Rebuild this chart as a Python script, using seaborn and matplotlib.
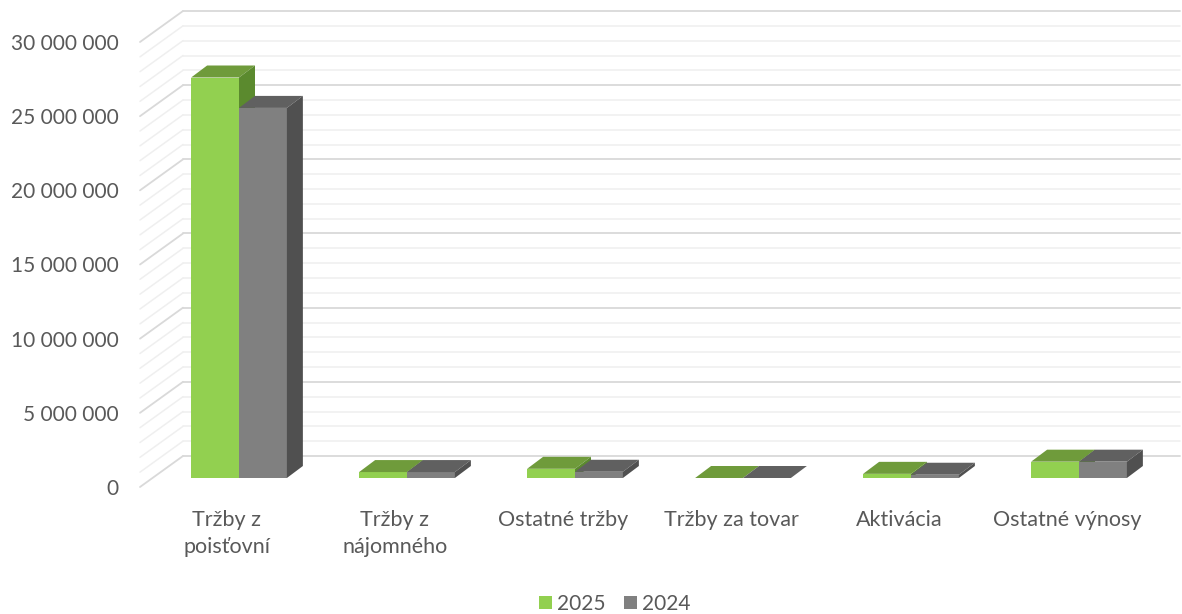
import pandas as pd
import seaborn as sns
import matplotlib.pyplot as plt
from matplotlib.patches import Polygon, Patch
from matplotlib.transforms import ScaledTranslation

# data
categories = ["Tržby z\npoisťovní", "Tržby z\nnájomného", "Ostatné tržby",
              "Tržby za tovar", "Aktivácia", "Ostatné výnosy"]
years = ["2025", "2024"]
values_2025 = [27_000_000, 400_000, 620_000, 0, 280_000, 1_100_000]
values_2024 = [24_950_000, 400_000, 420_000, 0, 220_000, 1_100_000]
y_ticks = [0, 5_000_000, 10_000_000, 15_000_000, 20_000_000, 25_000_000, 30_000_000]
y_labels = ["0", "5 000 000", "10 000 000", "15 000 000", "20 000 000", "25 000 000", "30 000 000"]

front_colors = {"2025": "#92d050", "2024": "#808080"}
top_colors = {"2025": "#6f9b3b", "2024": "#606060"}
side_colors = {"2025": "#5b8a2e", "2024": "#505050"}
text_color = "#595959"

df = pd.DataFrame({
    "Kategória": categories * 2,
    "Rok": ["2025"] * len(categories) + ["2024"] * len(categories),
    "Hodnota": values_2025 + values_2024,
})

sns.set_theme(style="white")
plt.rcParams["font.family"] = ["Lato", "DejaVu Sans"]

W, H = 1182, 614
fig = plt.figure(figsize=(W / 100, H / 100), dpi=100)
ax = fig.add_axes([155 / W, 136 / H, 1008 / W, 445 / H])

sns.barplot(data=df, x="Kategória", y="Hodnota", hue="Rok", hue_order=years,
            palette=front_colors, width=0.57, saturation=1, linewidth=0,
            legend=False, ax=ax)
ax.set_xlim(-0.5, 5.5)
ax.set_ylim(0, 30_000_000)

# pixel -> data scale of the axes
sx = ax.bbox.width / 6
sy = ax.bbox.height / 30_000_000

def px_x(p):
    return (p - 155) / sx - 0.5

# walls: back wall gridlines + slanted lines on the left side wall
back_dy = 22 / sy
front_dy = -9 / sy
for v in range(0, 30_000_001, 1_000_000):
    major = v % 5_000_000 == 0
    col = "#d9d9d9" if major else "#efefef"
    lw = 1.3 if major else 1.1
    ax.plot([px_x(183), px_x(1180)], [v + back_dy, v + back_dy], color=col,
            lw=lw, clip_on=False, zorder=1)
    ax.plot([px_x(140), px_x(183)], [v + front_dy, v + back_dy], color=col,
            lw=lw, clip_on=False, zorder=1)

# 3D faces for each bar
ddx = 16 / sx
ddy = 12 / sy
for z, (year, cont) in enumerate(zip(years, ax.containers)):
    for rect in cont:
        x0, w, h = rect.get_x(), rect.get_width(), rect.get_height()
        rect.set_zorder(3 + z)
        top = Polygon([(x0, h), (x0 + w, h), (x0 + w + ddx, h + ddy), (x0 + ddx, h + ddy)],
                      closed=True, facecolor=top_colors[year], edgecolor="none",
                      zorder=3 + z, clip_on=False)
        side = Polygon([(x0 + w, 0), (x0 + w + ddx, ddy), (x0 + w + ddx, h + ddy), (x0 + w, h)],
                       closed=True, facecolor=side_colors[year], edgecolor="none",
                       zorder=3 + z, clip_on=False)
        ax.add_patch(top)
        ax.add_patch(side)

# axes styling
for s in ax.spines.values():
    s.set_visible(False)
ax.set_xlabel("")
ax.set_ylabel("")
ax.set_yticks(y_ticks, y_labels)
ax.tick_params(axis="y", length=0, pad=26, labelsize=15, labelcolor=text_color)
ax.tick_params(axis="x", length=0, pad=23, labelsize=15.5, labelcolor=text_color)
shift = ScaledTranslation(0, -9 / 100, fig.dpi_scale_trans)
for lab in ax.get_yticklabels():
    lab.set_transform(lab.get_transform() + shift)
xshift = ScaledTranslation(-12 / 100, 0, fig.dpi_scale_trans)
for lab in ax.get_xticklabels():
    lab.set_transform(lab.get_transform() + xshift)
    lab.set_linespacing(1.45)

handles = [Patch(facecolor=front_colors[y], edgecolor="none") for y in years]
fig.legend(handles, years, loc="center", bbox_to_anchor=(615 / W, 10 / H),
           ncol=2, frameon=False, fontsize=15, labelcolor=text_color,
           handlelength=0.6, handleheight=0.6, handletextpad=0.25,
           columnspacing=0.9, borderpad=0)

fig.savefig("out.png", dpi=100)
